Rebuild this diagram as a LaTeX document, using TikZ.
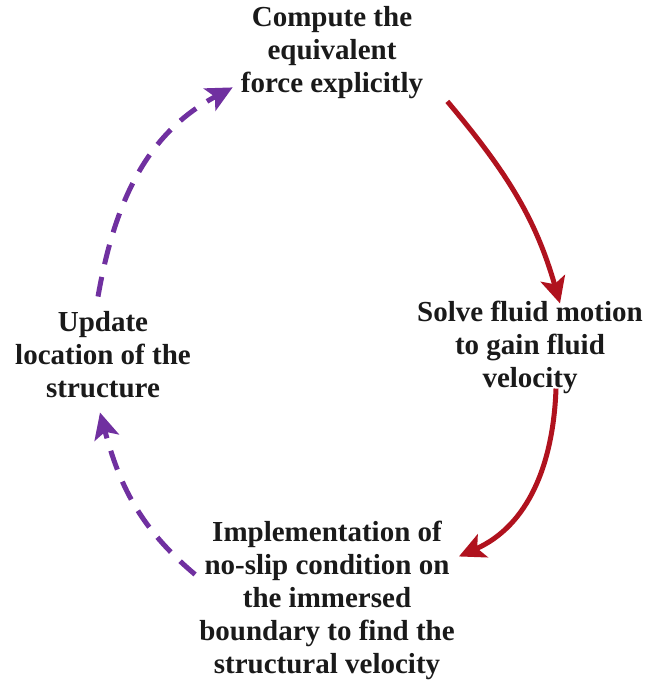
\documentclass[tikz,border=0pt]{standalone}
\usepackage{fontspec}
\setmainfont{Liberation Serif}
\usetikzlibrary{arrows.meta,calc}
\definecolor{arrred}{HTML}{B0121E}
\definecolor{arrpurple}{HTML}{7030A0}
\definecolor{txt}{HTML}{1A1A1A}
\tikzset{
  label/.style={align=center,font=\fontsize{29}{33}\selectfont\bfseries,text=txt,inner sep=0pt},
  redarrow/.style={draw=arrred,line width=5pt,-{Stealth[length=26pt,width=25pt,inset=6pt]}},
  purplearrow/.style={draw=arrpurple,line width=5pt,dash pattern=on 20pt off 13pt,-{Stealth[length=26pt,width=25pt,inset=6pt]}}
}
\begin{document}
\begin{tikzpicture}[x=1pt,y=1pt]
\useasboundingbox (0,0) rectangle (644,-684);
\node[label] (top) at (332,-53) {Compute the\\equivalent\\force explicitly};
\node[label] (right) at (530,-347) {Solve fluid motion\\to gain fluid\\velocity};
\node[label] (bottom) at (327,-600) {Implementation of\\no-slip condition on\\the immersed\\boundary to find the\\structural velocity};
\node[label] (left) at (103,-355) {Update\\location of the\\structure};
\draw[redarrow] ($(top.south east)+(24,-2)$) to[out=-50,in=106] ($(right.north)+(30,-3)$);
\draw[redarrow] ($(right.south)+(26,5)$) to[out=-92,in=24] ($(bottom.north east)+(4,-36)$);
\draw[purplearrow] ($(bottom.north west)+(-4,-54)$) to[out=140,in=-75] ($(left.south)+(-3,-14)$);
\draw[purplearrow] ($(left.north)+(-5,15)$) to[out=80,in=-152] ($(top.south west)+(-8,12)$);
\end{tikzpicture}
\end{document}
